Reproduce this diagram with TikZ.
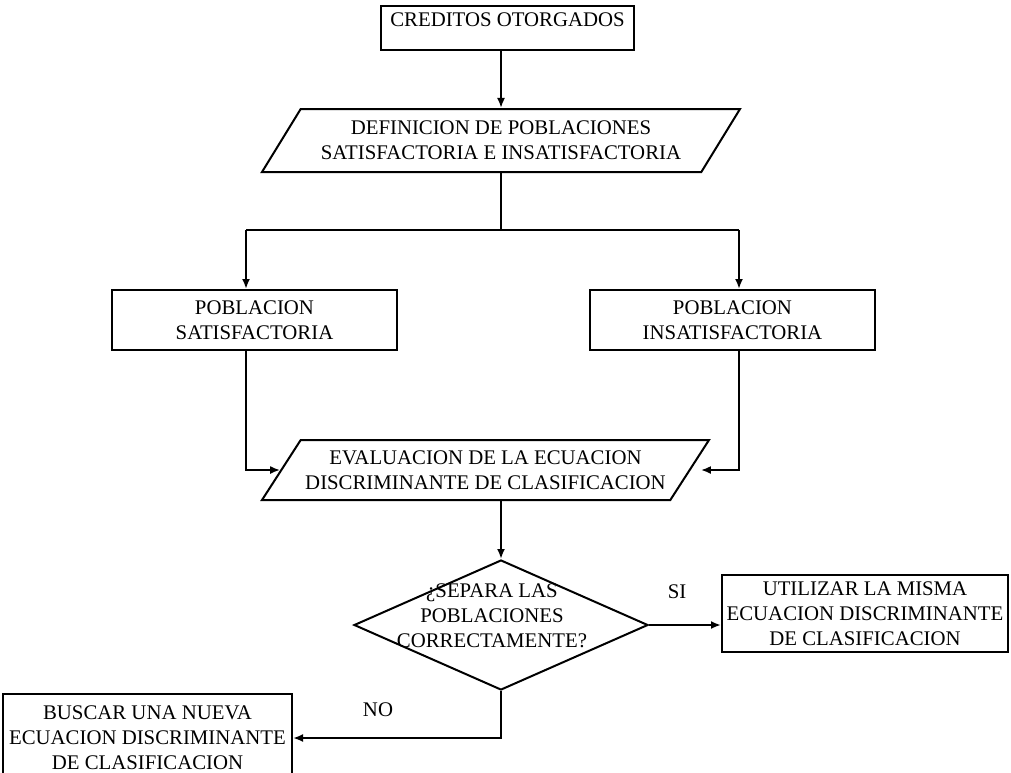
\documentclass[tikz,border=0pt]{standalone}
\usepackage{fontspec}
\setmainfont{Liberation Serif}
\usetikzlibrary{shapes.geometric,arrows.meta}

\begin{document}
\begin{tikzpicture}[x=0.5pt,y=-0.5pt,
    font=\fontsize{10.4}{12.5}\selectfont,
    caja/.style={draw, line width=1pt, rectangle, align=center, inner sep=0pt},
    datos/.style={draw, line width=1pt, trapezium, trapezium left angle=48,
        trapezium right angle=132, trapezium stretches body, align=center, inner sep=1pt},
    decision/.style={draw, line width=1pt, diamond, inner sep=0pt,
        minimum width=147pt, minimum height=65pt},
    linea/.style={line width=1pt},
    flecha/.style={line width=1pt, -{Latex[length=5pt,width=4pt]}}]
                \useasboundingbox (0,0) rectangle (1011,772);
                % Cajas
                \node[caja, minimum width=126.5pt, minimum height=22pt, text depth=8pt] (cred) at (507.5,28) {CREDITOS OTORGADOS};
                \node[datos, minimum width=239pt, minimum height=31.5pt] (def) at (501,140.5) {DEFINICION DE POBLACIONES\\SATISFACTORIA E INSATISFACTORIA};
                \node[caja, minimum width=142.5pt, minimum height=30pt] (sat) at (254.5,320) {POBLACION\\SATISFACTORIA};
                \node[caja, minimum width=142.5pt, minimum height=30pt] (ins) at (732.5,320) {POBLACION\\INSATISFACTORIA};
                \node[datos, minimum width=223.5pt, minimum height=30pt] (eval) at (485.5,470) {EVALUACION DE LA ECUACION\\DISCRIMINANTE DE CLASIFICACION};
                \node[decision] (sep) at (501,625) {};
                \node[align=center] (septxt) at (492,616) {¿SEPARA LAS\\POBLACIONES\\CORRECTAMENTE?};
                \node[caja, minimum width=143pt, minimum height=38.5pt] (util) at (865,613.5) {UTILIZAR LA MISMA\\ECUACION DISCRIMINANTE\\DE CLASIFICACION};
                \node[caja, minimum width=144.5pt, minimum height=44pt] (bus) at (147.5,738) {BUSCAR UNA NUEVA\\ECUACION DISCRIMINANTE\\DE CLASIFICACION};
                % Etiquetas
                \node (si) at (677,592) {SI};
                \node (no) at (378,710) {NO};
                % Conectores
                \coordinate (bi) at (246,230);
                \coordinate (bd) at (739,230);
                \draw[flecha] (cred.south -| def.north) -- (def.north);
                \draw[linea] (def.south) -- (def.south |- bi);
                \draw[linea] (bi) -- (bd);
                \draw[flecha] (bi) -- (bi |- sat.north);
                \draw[flecha] (bd) -- (bd |- ins.north);
                \draw[flecha] (sat.south -| bi) |- (eval.west);
                \draw[flecha, shorten >=5pt] (ins.south -| bd) |- (eval.east);
                \draw[flecha] (eval.south -| sep.north) -- (sep.north);
                \draw[flecha] (sep.east) -- (sep.east -| util.west);
                \draw[flecha] (sep.south) |- (bus.east);
                \end{tikzpicture}
\end{document}
